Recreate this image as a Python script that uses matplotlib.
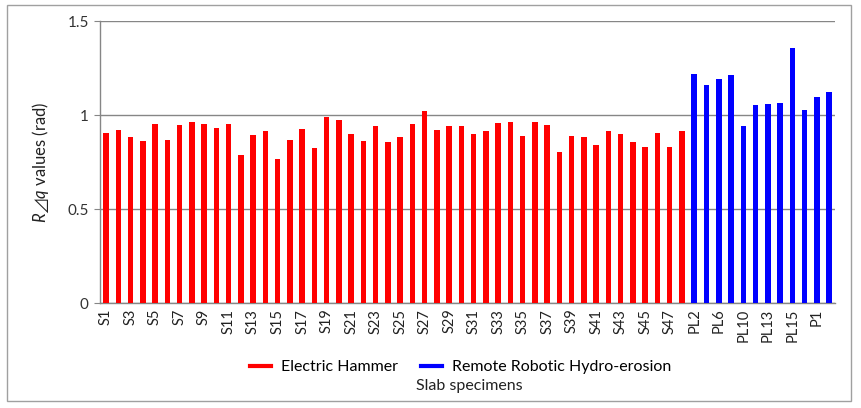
import matplotlib.pyplot as plt
from matplotlib.lines import Line2D
from matplotlib.patches import Rectangle

plt.rcParams['font.family'] = ['Lato', 'Noto Sans CJK SC', 'DejaVu Sans']
plt.rcParams['mathtext.fontset'] = 'custom'
plt.rcParams['mathtext.it'] = 'Lato:italic'
plt.rcParams['mathtext.rm'] = 'Lato'
plt.rcParams['mathtext.fallback'] = 'stixsans'

# electric hammer slabs S1..S48
hammer_labels = ['S%d' % i for i in range(1, 49)]
hammer_vals = [0.904, 0.922, 0.883, 0.862, 0.952, 0.867, 0.947, 0.963, 0.954, 0.931,
               0.952, 0.787, 0.892, 0.917, 0.764, 0.867, 0.927, 0.824, 0.991, 0.975,
               0.899, 0.862, 0.940, 0.856, 0.885, 0.952, 1.023, 0.922, 0.941, 0.941,
               0.901, 0.917, 0.957, 0.963, 0.888, 0.963, 0.949, 0.801, 0.887, 0.885,
               0.842, 0.913, 0.897, 0.855, 0.832, 0.904, 0.828, 0.913]

# remote robotic hydro-erosion slabs
hydro_labels = ['PL2', 'PL5', 'PL6', 'PL7', 'PL10', 'PL12',
                'PL13', 'PL14', 'PL15', 'PL16', 'P1', 'P2']
hydro_vals = [1.220, 1.158, 1.190, 1.211, 0.943, 1.051,
              1.057, 1.066, 1.355, 1.028, 1.094, 1.122]

labels = hammer_labels + hydro_labels
vals = hammer_vals + hydro_vals
colors = ['#FF0000'] * len(hammer_vals) + ['#0000FF'] * len(hydro_vals)

fig = plt.figure(figsize=(8.61, 4.08), dpi=100)
ax = fig.add_axes([0.116, 0.257, 0.854, 0.6915])

x = list(range(len(vals)))
ax.bar(x, vals, width=0.45, color=colors, zorder=3)

ax.set_xlim(-0.5, len(vals) - 0.5)
ax.set_ylim(0, 1.5)
ax.set_yticks([0, 0.5, 1, 1.5])
ax.set_yticklabels(['0', '0.5', '1', '1.5'], fontsize=11, color='#333333')
ax.set_xticks(x[::2])
ax.set_xticklabels(labels[::2], rotation=90, fontsize=10.5, color='#222222')
ax.tick_params(axis='x', length=0, pad=4)
ax.tick_params(axis='y', length=4, color='#868686', pad=4)

ax.grid(axis='y', color='#868686', linewidth=1, zorder=0)
for s in ['top', 'right']:
    ax.spines[s].set_visible(False)
for s in ['left', 'bottom']:
    ax.spines[s].set_color('#868686')
    ax.spines[s].set_linewidth(1)

ax.set_ylabel(r'$R\mathit{⊿}q$ values (rad)', fontsize=12, color='#222222', labelpad=12)

handles = [Line2D([], [], color='#FF0000', lw=3),
           Line2D([], [], color='#0000FF', lw=3)]
fig.legend(handles, ['Electric Hammer', 'Remote Robotic Hydro-erosion'],
           loc='center', bbox_to_anchor=(0.535, 0.10), ncol=2, frameon=False,
           fontsize=11.5, handlelength=1.3, handletextpad=0.6, columnspacing=1.5)
fig.text(0.545, 0.055, 'Slab specimens', ha='center', va='center', fontsize=11.5,
         color='#222222')

fig.patches.append(Rectangle((0.008, 0.017), 0.980, 0.97, transform=fig.transFigure,
                             fill=False, edgecolor='#A0A0A0', linewidth=1))

fig.savefig('out.png', dpi=100)
